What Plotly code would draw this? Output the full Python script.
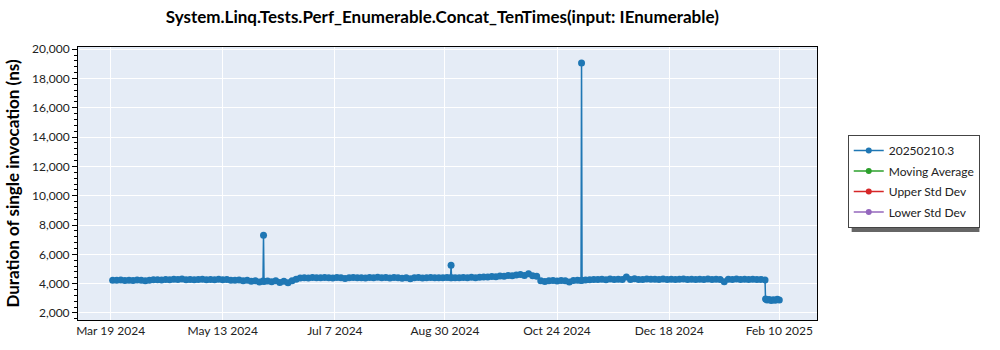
import plotly.graph_objects as go

# ---- data ----
dates = [
    "2024-03-20", "2024-03-22", "2024-03-24", "2024-03-26", "2024-03-28", "2024-03-30",
    "2024-04-01", "2024-04-03", "2024-04-05", "2024-04-07", "2024-04-09", "2024-04-11", "2024-04-13", "2024-04-15",
    "2024-04-17", "2024-04-19", "2024-04-21", "2024-04-23", "2024-04-25", "2024-04-27", "2024-04-29",
    "2024-05-01", "2024-05-03", "2024-05-05", "2024-05-07", "2024-05-09", "2024-05-11", "2024-05-13", "2024-05-15",
    "2024-05-17", "2024-05-19", "2024-05-21", "2024-05-23", "2024-05-25", "2024-05-27", "2024-05-29", "2024-05-31",
    "2024-06-01 18:00", "2024-06-02", "2024-06-02 06:00", "2024-06-04", "2024-06-06", "2024-06-08", "2024-06-10",
    "2024-06-12", "2024-06-14", "2024-06-16",
    "2024-06-18", "2024-06-20", "2024-06-22", "2024-06-24", "2024-06-26", "2024-06-28", "2024-06-30",
    "2024-07-02", "2024-07-04", "2024-07-06", "2024-07-08", "2024-07-10", "2024-07-12", "2024-07-14", "2024-07-16",
    "2024-07-18", "2024-07-20", "2024-07-22", "2024-07-24", "2024-07-26", "2024-07-28", "2024-07-30",
    "2024-08-01", "2024-08-03", "2024-08-05", "2024-08-07", "2024-08-09", "2024-08-11", "2024-08-13", "2024-08-15",
    "2024-08-17", "2024-08-19", "2024-08-21", "2024-08-23", "2024-08-25", "2024-08-27", "2024-08-29", "2024-08-31",
    "2024-09-01 18:00", "2024-09-02", "2024-09-02 06:00", "2024-09-04", "2024-09-06", "2024-09-08", "2024-09-10",
    "2024-09-12", "2024-09-14", "2024-09-16",
    "2024-09-18", "2024-09-20", "2024-09-22", "2024-09-24", "2024-09-26", "2024-09-28", "2024-09-30",
    "2024-10-02", "2024-10-04", "2024-10-06", "2024-10-08", "2024-10-10", "2024-10-12", "2024-10-14", "2024-10-16",
    "2024-10-18", "2024-10-20", "2024-10-22", "2024-10-24", "2024-10-26", "2024-10-28", "2024-10-30",
    "2024-11-01", "2024-11-03", "2024-11-04 18:00", "2024-11-05", "2024-11-05 06:00", "2024-11-07", "2024-11-09",
    "2024-11-11", "2024-11-13", "2024-11-15",
    "2024-11-17", "2024-11-19", "2024-11-21", "2024-11-23", "2024-11-25", "2024-11-27", "2024-11-29",
    "2024-12-01", "2024-12-03", "2024-12-05", "2024-12-07", "2024-12-09", "2024-12-11", "2024-12-13", "2024-12-15",
    "2024-12-17", "2024-12-19", "2024-12-21", "2024-12-23", "2024-12-25", "2024-12-27", "2024-12-29", "2024-12-31",
    "2025-01-02", "2025-01-04", "2025-01-06", "2025-01-08", "2025-01-10", "2025-01-12", "2025-01-14", "2025-01-16",
    "2025-01-18", "2025-01-20", "2025-01-22", "2025-01-24", "2025-01-26", "2025-01-28", "2025-01-30",
    "2025-02-01", "2025-02-03", "2025-02-03 06:00", "2025-02-04", "2025-02-05", "2025-02-06", "2025-02-07",
    "2025-02-08", "2025-02-09", "2025-02-10",
]

durations = [
    4240, 4225, 4250, 4210, 4235, 4220,
    4245, 4230, 4195, 4240, 4260, 4275, 4250, 4290,
    4270, 4300, 4280, 4310, 4275, 4290, 4265,
    4285, 4300, 4270, 4290, 4275, 4295, 4260, 4280,
    4240, 4225, 4250, 4200, 4230, 4170, 4190, 4120,
    4180, 7300, 4150, 4180, 4130, 4200, 4080,
    4160, 4060, 4190,
    4300, 4380, 4400, 4390, 4420, 4410, 4395,
    4420, 4405, 4390, 4415, 4400, 4360, 4410, 4425,
    4395, 4410, 4380, 4420, 4405, 4430, 4400,
    4415, 4390, 4420, 4400, 4370, 4410, 4340, 4400,
    4415, 4380, 4405, 4420, 4395, 4410, 4400, 4420,
    4410, 5250, 4400, 4410, 4395, 4420, 4405,
    4430, 4410, 4440,
    4460, 4450, 4490, 4470, 4520, 4500, 4560,
    4540, 4590, 4620, 4560, 4680, 4540, 4510, 4200,
    4150, 4190, 4210, 4180, 4220, 4200, 4110,
    4210, 4230, 4220, 19050, 4240, 4250, 4270,
    4290, 4280, 4300,
    4275, 4310, 4290, 4300, 4280, 4450, 4290,
    4330, 4290, 4280, 4310, 4295, 4300, 4285, 4310,
    4290, 4300, 4280, 4295, 4310, 4290, 4305, 4285,
    4300, 4290, 4310, 4285, 4300, 4290, 4130, 4300,
    4285, 4310, 4290, 4300, 4280, 4295, 4290,
    4280, 4250, 2950, 2880, 2920, 2850, 2900,
    2870, 2930, 2890,
]

series_names = ["20250210.3", "Moving Average", "Upper Std Dev", "Lower Std Dev"]
series_colors = ["#1f77b4", "#2ca02c", "#d62728", "#9467bd"]

tick_dates = ["2024-03-19", "2024-05-13", "2024-07-07", "2024-08-30", "2024-10-24", "2024-12-18", "2025-02-10"]
tick_labels = ["Mar 19 2024", "May 13 2024", "Jul 7 2024", "Aug 30 2024", "Oct 24 2024", "Dec 18 2024", "Feb 10 2025"]

FONT = "Lato"

fig = go.Figure()
# main data series (legend entry drawn by the legend-only twin below)
fig.add_trace(go.Scatter(
    x=dates, y=durations, mode="lines+markers", name=series_names[0],
    showlegend=False, legendgroup="g0",
    line=dict(color=series_colors[0], width=1.5),
    marker=dict(color=series_colors[0], size=7),
))
for i, (name, col) in enumerate(zip(series_names, series_colors)):
    fig.add_trace(go.Scatter(
        x=[None], y=[None], mode="lines+markers", name=name, legendgroup=f"g{i}",
        line=dict(color=col, width=1.5), marker=dict(color=col, size=6),
    ))

# legend drop shadow
fig.add_shape(type="rect", xref="paper", yref="paper",
              x0=1.0469, x1=1.2198, y0=0.322, y1=0.663,
              fillcolor="#666666", line=dict(width=0), layer="below")

fig.update_layout(
    width=1000, height=350,
    margin=dict(l=71, r=183, t=47, b=30),
    paper_bgcolor="white", plot_bgcolor="#e5ecf6",
    font=dict(family=FONT, size=12, color="#222222"),
    title=dict(text="<b>System.Linq.Tests.Perf_Enumerable.Concat_TenTimes(input: IEnumerable)</b>",
               x=0.493, xref="paper", xanchor="center", y=0.95, yref="container", yanchor="middle",
               font=dict(family=FONT, size=17, color="black")),
    showlegend=True,
    legend=dict(x=1.0416, y=0.678, xanchor="left", yanchor="top",
                bgcolor="white", bordercolor="#444444", borderwidth=1,
                tracegroupgap=1.5,
                font=dict(family=FONT, size=12, color="#222222")),
    xaxis=dict(
        range=["2024-03-03", "2025-02-28 12:00"],
        tickvals=tick_dates, ticktext=tick_labels,
        showgrid=True, gridcolor="white", gridwidth=1,
        showline=True, linecolor="black", linewidth=1, mirror=True,
        ticks="", zeroline=False,
    ),
    yaxis=dict(
        range=[1520, 20150],
        tickvals=[2000, 4000, 6000, 8000, 10000, 12000, 14000, 16000, 18000, 20000],
        tickformat=",d",
        showgrid=True, gridcolor="white", gridwidth=1,
        showline=True, linecolor="black", linewidth=1, mirror=True,
        ticks="outside", ticklen=5, tickcolor="black",
        minor=dict(dtick=400, ticks="outside", ticklen=3, tickcolor="black", showgrid=False),
        zeroline=False,
        title=dict(text="<b>Duration of single invocation (ns)</b>", font=dict(family=FONT, size=17, color="black"), standoff=8),
    ),
)

fig.write_html("out.html")
